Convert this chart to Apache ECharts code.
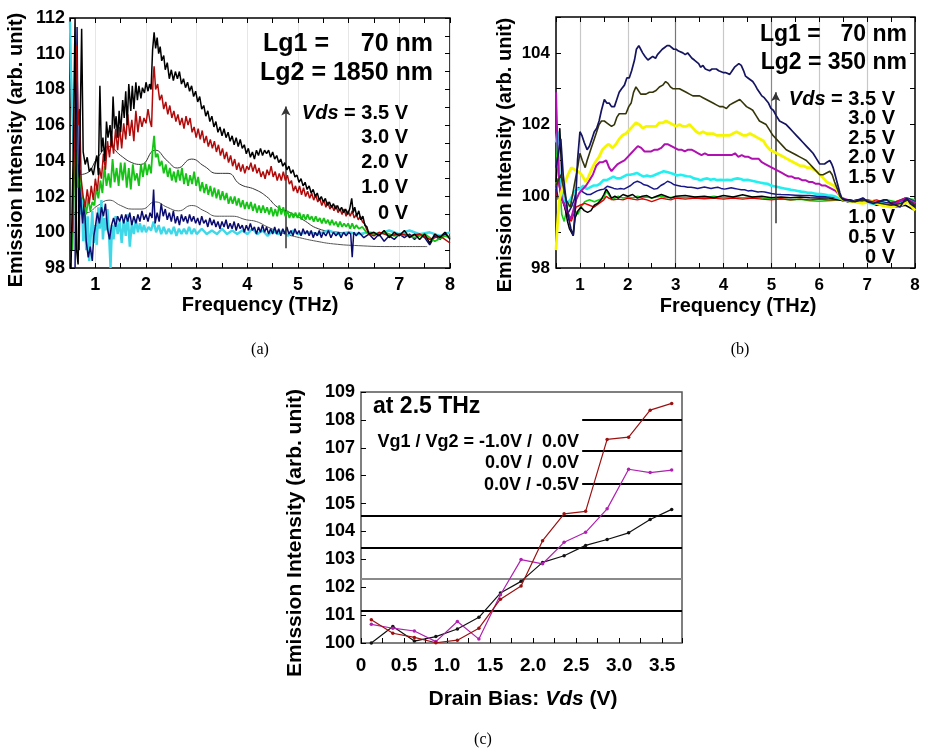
<!DOCTYPE html>
<html><head><meta charset="utf-8">
<script src="https://cdn.jsdelivr.net/npm/echarts/dist/echarts.min.js"></script>
<style>html,body{margin:0;padding:0;background:#fff}#chart{width:926px;height:754px}</style>
</head><body><div id="chart"></div>
<script>
// ---------- Panel (a): Lg1 = 70 nm, Lg2 = 1850 nm ----------
const a_vds35 = [[0.52,98],[0.56,104],[0.6,112],[0.63,99],[0.66,98.2],[0.7,106],[0.73,111.4],[0.76,104.5],[0.8,103.8],[0.84,104.2],[0.88,103.4],[0.92,103.6],[0.96,103.2],[1.0,103.9],[1.03,104.3],[1.06,103.2],[1.09,108.2],[1.12,104.5],[1.15,105.3],[1.19,104],[1.22,106.2],[1.25,105.3],[1.29,106],[1.32,104.8],[1.35,107.6],[1.38,105.8],[1.41,106.5],[1.44,105.3],[1.47,106.8],[1.5,105.6],[1.54,107.4],[1.57,106.4],[1.6,107.9],[1.63,106],[1.66,108.3],[1.7,106.8],[1.73,108.2],[1.76,106.9],[1.8,108.4],[1.83,107.4],[1.86,108.2],[1.9,107.5],[1.93,108.1],[1.97,107.8],[2.0,108.4],[2.04,107.9],[2.07,108.3],[2.1,108],[2.13,110.2],[2.16,111.2],[2.19,110.3],[2.22,110.9],[2.25,110],[2.28,110.4],[2.31,109.6],[2.35,109.9],[2.38,109.1],[2.42,109.5],[2.46,108.6],[2.5,109.1],[2.54,108.5],[2.58,109],[2.62,108.6],[2.66,109],[2.7,108.3],[2.74,108.6],[2.78,108.1],[2.82,108.4],[2.86,107.9],[2.9,108.2],[2.94,107.6],[2.98,107.9],[3.02,107.3],[3.06,107.6],[3.1,106.9],[3.14,107.1],[3.18,106.5],[3.22,106.8],[3.26,106.2],[3.3,106.5],[3.34,105.9],[3.38,106.2],[3.42,105.6],[3.46,105.9],[3.5,105.4],[3.54,105.8],[3.58,105.3],[3.62,105.6],[3.66,105.1],[3.7,105.4],[3.74,104.9],[3.78,105.3],[3.82,104.8],[3.86,105.2],[3.9,104.7],[3.94,104.9],[3.98,104.4],[4.02,104.7],[4.06,104.2],[4.1,104.5],[4.14,104.1],[4.18,104.6],[4.22,104.3],[4.26,104.7],[4.3,104.3],[4.34,104.6],[4.38,104.4],[4.42,104.6],[4.46,104.2],[4.5,104.5],[4.54,104.1],[4.58,104.3],[4.62,103.9],[4.66,104.1],[4.7,103.7],[4.74,103.9],[4.78,103.5],[4.82,103.7],[4.86,103.3],[4.9,103.5],[4.94,103.1],[4.98,103.2],[5.02,102.8],[5.06,103],[5.1,102.6],[5.14,102.8],[5.18,102.4],[5.22,102.6],[5.26,102.2],[5.3,102.4],[5.34,102],[5.38,102.2],[5.42,101.8],[5.46,102],[5.5,101.7],[5.54,101.9],[5.58,101.5],[5.62,101.7],[5.66,101.4],[5.7,101.6],[5.74,101.3],[5.78,101.5],[5.82,101.2],[5.86,101.4],[5.9,101.1],[5.94,101.3],[5.98,101.0],[6.02,101.3],[6.06,101.9],[6.09,101.1],[6.12,101.4],[6.16,100.9],[6.2,101.2],[6.24,100.7],[6.28,100.9],[6.32,100.4],[6.36,100.3],[6.4,99.9],[6.5,100],[6.6,99.8],[6.7,100.1],[6.8,99.7],[6.9,100],[7.0,99.8],[7.1,100.1],[7.2,99.7],[7.3,99.9],[7.4,99.6],[7.5,99.9],[7.6,99.4],[7.7,99.9],[7.8,99.7],[7.9,100],[8.0,99.6]];
const a_vds30 = [[0.55,100],[0.58,104],[0.61,108],[0.63,110.5],[0.66,106],[0.69,106.9],[0.72,103],[0.76,102],[0.8,101.4],[0.84,102.4],[0.88,101.6],[0.92,102.6],[0.96,101.8],[1.0,103],[1.04,102.3],[1.08,103.6],[1.12,103],[1.16,104.4],[1.2,103.5],[1.24,105.1],[1.28,104.2],[1.32,105.4],[1.36,104.4],[1.4,105.8],[1.44,104.6],[1.48,105.9],[1.52,104.7],[1.56,106.1],[1.6,105.2],[1.64,106.6],[1.68,105.4],[1.72,106.3],[1.76,105.1],[1.8,106.8],[1.84,105.6],[1.88,106.5],[1.92,105.9],[1.96,106.4],[2.0,106.1],[2.04,106.9],[2.08,106.2],[2.11,105.9],[2.14,108.6],[2.16,109.3],[2.19,108],[2.23,108.3],[2.27,107.4],[2.31,107.7],[2.35,106.9],[2.39,107.3],[2.43,106.6],[2.47,107.1],[2.51,106.4],[2.55,106.8],[2.59,106.2],[2.63,106.6],[2.67,106],[2.71,106.4],[2.75,105.8],[2.79,106.5],[2.83,106],[2.87,106.4],[2.91,105.6],[2.95,105.9],[2.99,105.3],[3.03,105.8],[3.07,105.2],[3.11,105.7],[3.15,105],[3.19,105.4],[3.23,104.8],[3.27,105.2],[3.31,104.7],[3.35,105.1],[3.39,104.5],[3.43,104.9],[3.47,104.3],[3.51,104.7],[3.55,104.1],[3.59,104.5],[3.63,103.9],[3.67,104.3],[3.71,103.7],[3.75,104.1],[3.79,103.5],[3.83,103.9],[3.87,103.4],[3.91,103.8],[3.95,103.3],[3.99,103.7],[4.03,103.5],[4.07,103.9],[4.11,103.4],[4.15,103.8],[4.19,103.3],[4.23,103.6],[4.27,103.1],[4.31,103.4],[4.35,103.0],[4.39,103.5],[4.43,103.2],[4.47,103.7],[4.51,103.1],[4.55,103.4],[4.59,102.9],[4.63,103.3],[4.67,102.9],[4.71,103.4],[4.75,102.9],[4.79,103.2],[4.83,102.7],[4.87,102.9],[4.91,102.3],[4.95,102.6],[4.99,102.2],[5.03,102.6],[5.07,102.1],[5.11,102.5],[5.15,102],[5.19,102.3],[5.23,101.9],[5.27,102.2],[5.31,101.8],[5.35,102.1],[5.39,101.7],[5.43,101.9],[5.47,101.5],[5.51,101.8],[5.55,101.4],[5.59,101.7],[5.63,101.3],[5.67,101.5],[5.71,101.2],[5.75,101.5],[5.79,101.1],[5.83,101.3],[5.87,101],[5.91,101.3],[5.95,100.9],[5.99,101.2],[6.03,100.9],[6.07,101.2],[6.11,100.8],[6.15,101],[6.19,100.7],[6.23,100.9],[6.27,100.6],[6.31,100.5],[6.35,100.2],[6.4,99.9],[6.5,99.8],[6.6,100],[6.8,99.8],[7.0,99.9],[7.2,99.8],[7.4,99.9],[7.6,99.6],[7.8,99.8],[8.0,99.4]];
const a_vds20 = [[0.55,99],[0.58,103],[0.61,104.5],[0.64,103.5],[0.67,102.5],[0.7,103.2],[0.74,102],[0.78,101.8],[0.82,101],[0.86,101.9],[0.9,101.2],[0.94,101.7],[0.98,101.5],[1.02,102.5],[1.06,101.9],[1.1,102.9],[1.14,102.2],[1.18,103.7],[1.22,102.6],[1.26,103.3],[1.3,102.5],[1.34,104.1],[1.38,102.8],[1.42,103.6],[1.46,102.6],[1.5,103.9],[1.54,102.9],[1.58,103.9],[1.62,102.5],[1.66,103.6],[1.7,102.4],[1.74,103.8],[1.78,102.9],[1.82,103.3],[1.86,102.6],[1.9,103.8],[1.94,103.1],[1.98,103.9],[2.02,103.2],[2.06,103.8],[2.1,103.3],[2.13,104.6],[2.16,105.4],[2.19,104.2],[2.23,104.4],[2.27,103.7],[2.31,104],[2.35,103.3],[2.39,103.8],[2.43,103.1],[2.47,103.6],[2.51,102.9],[2.55,103.4],[2.59,102.8],[2.63,103.5],[2.67,102.9],[2.71,103.6],[2.75,102.7],[2.79,103.3],[2.83,102.6],[2.87,103.2],[2.91,102.7],[2.95,103.4],[2.99,102.6],[3.03,103.1],[3.07,102.3],[3.11,102.8],[3.15,102.2],[3.19,102.7],[3.23,102.1],[3.27,102.6],[3.31,102],[3.35,102.5],[3.39,101.9],[3.43,102.4],[3.47,101.8],[3.51,102.3],[3.55,101.8],[3.59,102.2],[3.63,101.6],[3.67,102],[3.71,101.6],[3.75,102],[3.79,101.5],[3.83,101.9],[3.87,101.4],[3.91,101.8],[3.95,101.3],[3.99,101.7],[4.03,101.3],[4.07,101.7],[4.11,101.2],[4.15,101.6],[4.19,101.1],[4.23,101.5],[4.27,101.1],[4.31,101.5],[4.35,101.1],[4.39,101.4],[4.43,101],[4.47,101.4],[4.51,100.9],[4.55,101.3],[4.59,100.9],[4.63,101.5],[4.67,101],[4.71,101.4],[4.75,100.9],[4.79,101.2],[4.83,100.8],[4.87,101.1],[4.91,100.8],[4.95,101.1],[4.99,100.8],[5.03,101.1],[5.07,100.7],[5.11,101],[5.15,100.7],[5.19,101],[5.23,100.7],[5.27,100.9],[5.31,100.6],[5.35,100.9],[5.39,100.6],[5.43,100.8],[5.47,100.5],[5.51,100.8],[5.55,100.5],[5.59,100.7],[5.63,100.4],[5.67,100.7],[5.71,100.4],[5.75,100.6],[5.79,100.3],[5.83,100.6],[5.87,100.3],[5.91,100.5],[5.95,100.3],[5.99,100.5],[6.03,100.2],[6.07,100.5],[6.11,100.2],[6.15,100.4],[6.2,100.2],[6.27,100.3],[6.35,100],[6.5,99.9],[6.7,100],[6.9,99.8],[7.1,99.9],[7.3,99.7],[7.5,99.9],[7.7,99.5],[7.9,99.8],[8.0,99.7]];
const a_vds10 = [[0.6,98],[0.62,106],[0.64,111.5],[0.66,104],[0.68,99],[0.7,103.5],[0.72,101.5],[0.75,100.5],[0.78,101.8],[0.82,99.5],[0.86,98.6],[0.9,99.2],[0.94,98.4],[0.97,99.8],[1.0,100.3],[1.04,101.1],[1.08,100.5],[1.12,101.4],[1.16,100.9],[1.2,101.6],[1.24,100.2],[1.28,99.6],[1.32,100.4],[1.36,100.8],[1.4,100.3],[1.44,100.9],[1.48,100.6],[1.52,101],[1.56,100.5],[1.6,101],[1.64,100.6],[1.68,101.1],[1.72,100.4],[1.76,100.9],[1.8,100.5],[1.84,101],[1.88,100.6],[1.92,101.2],[1.96,100.7],[2.0,101],[2.04,100.6],[2.08,101.1],[2.12,100.8],[2.15,102.4],[2.18,100.5],[2.22,101.1],[2.26,100.6],[2.3,101.6],[2.34,100.9],[2.38,101.3],[2.42,100.7],[2.46,101.1],[2.5,100.6],[2.54,101.2],[2.58,100.5],[2.62,100.9],[2.66,100.4],[2.7,101],[2.74,100.6],[2.78,100.9],[2.82,100.5],[2.86,101],[2.9,100.6],[2.94,100.9],[2.98,100.5],[3.02,100.8],[3.06,100.4],[3.1,100.9],[3.14,100.5],[3.18,100.7],[3.22,100.3],[3.26,100.8],[3.3,100.4],[3.34,100.7],[3.38,100.3],[3.42,100.6],[3.46,100.2],[3.5,100.6],[3.54,100.3],[3.58,100.7],[3.62,100.2],[3.66,100.5],[3.7,100.2],[3.74,100.6],[3.78,100.1],[3.82,100.5],[3.86,100.2],[3.9,100.4],[3.94,100],[3.98,100.4],[4.02,100.1],[4.06,100.5],[4.1,100.1],[4.14,100.3],[4.18,99.9],[4.22,100.3],[4.26,100],[4.3,100.4],[4.34,100],[4.38,100.3],[4.42,99.9],[4.46,100.2],[4.5,99.9],[4.54,100.3],[4.58,99.9],[4.62,100.2],[4.66,99.8],[4.7,100.2],[4.74,99.9],[4.78,100.3],[4.82,99.9],[4.86,100.1],[4.9,99.8],[4.94,100.2],[4.98,99.9],[5.02,100.1],[5.06,99.8],[5.1,100.2],[5.14,99.9],[5.18,100.1],[5.22,99.8],[5.26,100.1],[5.3,99.7],[5.34,100],[5.38,99.8],[5.42,100.1],[5.46,99.7],[5.5,100],[5.55,99.8],[5.6,100.1],[5.65,99.7],[5.7,100],[5.75,99.8],[5.8,100],[5.85,99.7],[5.9,100],[5.95,99.8],[6.0,100],[6.04,99.9],[6.07,98.6],[6.1,100],[6.15,99.8],[6.2,100],[6.3,99.7],[6.4,99.9],[6.5,99.6],[6.6,99.9],[6.7,99.5],[6.8,99.8],[6.9,99.6],[7.0,99.9],[7.1,99.7],[7.2,99.9],[7.3,99.6],[7.4,99.9],[7.5,99.7],[7.6,99.3],[7.7,99.8],[7.8,99.6],[7.9,99.9],[8.0,99.7]];
const a_vds00 = [[0.5,111.8],[0.52,109],[0.55,106.5],[0.58,104],[0.61,104.6],[0.64,102.5],[0.67,103.8],[0.7,101],[0.73,102.2],[0.76,99.5],[0.79,101.4],[0.82,99],[0.85,100.9],[0.88,98.4],[0.91,99.8],[0.94,101.2],[0.97,99.4],[1.0,100.4],[1.03,99.3],[1.06,101.4],[1.09,100.2],[1.12,101.8],[1.15,99.6],[1.18,100.8],[1.21,100.1],[1.24,101.3],[1.27,99.9],[1.3,98],[1.33,100.4],[1.36,99.6],[1.4,100.9],[1.44,99.9],[1.48,100.6],[1.52,99.4],[1.56,100.7],[1.6,99.8],[1.64,101],[1.68,99.2],[1.72,100.5],[1.76,99.9],[1.8,100.7],[1.84,100],[1.88,100.5],[1.92,100],[1.96,100.4],[2.0,100],[2.05,100.3],[2.1,100.1],[2.15,100.6],[2.2,100],[2.25,100.4],[2.3,99.9],[2.35,100.3],[2.4,99.9],[2.45,100.2],[2.5,99.9],[2.55,100.3],[2.6,99.8],[2.65,100.2],[2.7,99.9],[2.75,100.2],[2.8,99.9],[2.85,100.3],[2.9,99.9],[2.95,100.2],[3.0,99.9],[3.1,100.2],[3.2,99.9],[3.3,100.1],[3.4,99.9],[3.5,100.2],[3.6,99.9],[3.7,100.1],[3.8,99.9],[3.9,100.1],[4.0,99.9],[4.1,100.2],[4.2,99.9],[4.3,100.1],[4.4,99.8],[4.5,100.1],[4.6,99.9],[4.7,100.1],[4.8,99.8],[4.9,100.1],[5.0,99.9],[5.2,100],[5.4,99.9],[5.6,100.1],[5.8,99.9],[6.0,100],[6.2,99.9],[6.4,100],[6.6,99.9],[6.8,100.1],[7.0,99.9],[7.2,100.1],[7.4,99.9],[7.6,100],[7.8,99.8],[8.0,100]];
const a_fitUpper = [[0.58,103.2],[0.82,103.3],[1.05,104.2],[1.27,104.8],[1.5,104.3],[1.72,103.9],[1.9,103.8],[2.18,104.6],[2.42,104.0],[2.62,103.6],[2.9,104.1],[3.15,103.7],[3.4,103.3],[3.62,103.3],[3.85,102.7],[4.15,102.4],[4.38,102.0],[4.6,101.4],[4.85,101.1],[5.1,100.7],[5.4,100.2],[5.8,100.0],[6.3,99.9]];
const a_fitLower = [[0.58,101.1],[0.82,101.1],[1.05,101.5],[1.27,101.8],[1.5,101.5],[1.72,101.3],[1.92,101.3],[2.18,101.7],[2.42,101.4],[2.64,101.2],[2.9,101.5],[3.15,101.2],[3.4,100.9],[3.7,100.9],[3.98,100.7],[4.18,100.6],[4.4,100.3],[4.7,99.95],[5.03,99.7],[5.36,99.5],[5.7,99.35],[6.2,99.25],[6.8,99.2],[7.55,99.2]];
const a_arrow = [4.76, 99.1, 107.05];

// ---------- Panel (b): Lg1 = 70 nm, Lg2 = 350 nm ----------
const b_vds35 = [[0.5,100.8],[0.55,101.2],[0.6,101.6],[0.65,100.6],[0.71,99.9],[0.76,99.4],[0.81,99.1],[0.86,98.9],[0.9,99.6],[0.95,101],[1.0,101.8],[1.04,101.7],[1.09,101.5],[1.15,101.3],[1.2,101.4],[1.25,101.6],[1.3,101.8],[1.35,101.9],[1.4,102.1],[1.45,102.4],[1.51,102.7],[1.56,102.6],[1.61,102.6],[1.66,102.5],[1.72,102.5],[1.77,102.7],[1.82,102.9],[1.87,103],[1.93,103.1],[1.98,103.3],[2.03,103.3],[2.08,103.5],[2.14,103.8],[2.18,104.1],[2.23,104.2],[2.27,104.1],[2.31,104.0],[2.36,103.9],[2.42,103.8],[2.47,103.85],[2.52,103.9],[2.58,103.85],[2.62,103.95],[2.66,104.0],[2.72,104.1],[2.77,104.15],[2.82,104.2],[2.87,104.2],[2.91,104.15],[2.96,104.1],[3.01,104.1],[3.06,104.05],[3.1,104.0],[3.15,104.0],[3.2,103.95],[3.25,104.0],[3.29,103.95],[3.34,103.85],[3.39,103.8],[3.43,103.75],[3.48,103.7],[3.52,103.6],[3.57,103.65],[3.62,103.55],[3.66,103.6],[3.71,103.5],[3.76,103.55],[3.8,103.6],[3.85,103.55],[3.9,103.5],[3.94,103.5],[3.99,103.45],[4.04,103.45],[4.08,103.4],[4.13,103.4],[4.18,103.5],[4.23,103.6],[4.27,103.6],[4.32,103.7],[4.37,103.65],[4.42,103.5],[4.46,103.35],[4.51,103.3],[4.56,103.25],[4.61,103.2],[4.66,103.1],[4.7,103.0],[4.75,102.9],[4.8,102.8],[4.85,102.75],[4.89,102.7],[4.94,102.6],[4.99,102.45],[5.04,102.4],[5.1,102.25],[5.17,102.1],[5.24,102.05],[5.31,102.0],[5.38,101.9],[5.45,101.8],[5.52,101.7],[5.59,101.6],[5.66,101.5],[5.73,101.4],[5.8,101.3],[5.87,101.2],[5.94,101.05],[6.01,100.9],[6.06,100.9],[6.11,100.9],[6.16,100.95],[6.22,101.0],[6.26,100.9],[6.29,100.8],[6.34,100.55],[6.39,100.3],[6.43,100.1],[6.47,99.95],[6.55,99.9],[6.64,99.9],[6.75,99.85],[6.85,99.9],[6.92,99.95],[7.0,99.85],[7.13,99.8],[7.25,99.85],[7.35,99.9],[7.41,99.9],[7.5,99.8],[7.6,99.75],[7.69,99.7],[7.76,99.85],[7.83,99.95],[7.9,99.8],[8.0,99.7]];
const b_vds30 = [[0.5,100.3],[0.6,100.6],[0.71,99.9],[0.8,99.7],[0.88,100.3],[0.95,100.8],[1.0,101.2],[1.05,101.0],[1.11,100.8],[1.15,101.0],[1.2,101.2],[1.25,101.4],[1.3,101.6],[1.35,101.8],[1.4,102.0],[1.45,102.1],[1.51,102.1],[1.56,102.05],[1.61,102.0],[1.66,101.95],[1.72,102.0],[1.77,102.2],[1.82,102.3],[1.88,102.3],[1.96,102.3],[2.02,102.5],[2.07,102.6],[2.12,102.9],[2.17,103.05],[2.22,102.95],[2.27,102.85],[2.31,102.8],[2.38,102.85],[2.45,102.9],[2.52,102.9],[2.59,102.95],[2.66,103.05],[2.73,103.1],[2.79,103.2],[2.84,103.15],[2.89,103.05],[2.94,103.0],[3.01,103.0],[3.08,103.0],[3.15,102.95],[3.22,102.9],[3.29,102.85],[3.36,102.8],[3.43,102.8],[3.5,102.8],[3.57,102.75],[3.64,102.7],[3.71,102.65],[3.78,102.6],[3.85,102.55],[3.92,102.5],[3.99,102.5],[4.06,102.45],[4.13,102.55],[4.2,102.6],[4.27,102.65],[4.34,102.7],[4.41,102.6],[4.48,102.5],[4.55,102.45],[4.61,102.4],[4.68,102.25],[4.75,102.1],[4.82,102.05],[4.89,102.0],[4.96,101.85],[5.03,101.7],[5.1,101.6],[5.17,101.5],[5.24,101.4],[5.31,101.3],[5.38,101.25],[5.45,101.2],[5.52,101.15],[5.59,101.1],[5.66,101.05],[5.73,101.0],[5.8,100.9],[5.87,100.8],[5.94,100.7],[6.01,100.6],[6.08,100.6],[6.15,100.65],[6.22,100.7],[6.27,100.6],[6.32,100.4],[6.38,100.2],[6.43,100.0],[6.5,99.9],[6.7,99.85],[6.9,99.9],[7.1,99.85],[7.3,99.8],[7.5,99.75],[7.7,99.8],[7.85,99.9],[8.0,99.75]];
const b_vds25 = [[0.5,98.5],[0.53,99.2],[0.57,99.9],[0.63,100.2],[0.68,100.35],[0.75,100.6],[0.82,100.8],[0.88,100.75],[0.95,100.7],[1.0,100.65],[1.06,100.55],[1.12,100.4],[1.18,100.55],[1.26,100.8],[1.32,100.95],[1.4,101.1],[1.47,101.3],[1.54,101.4],[1.6,101.45],[1.68,101.35],[1.75,101.45],[1.82,101.6],[1.89,101.7],[1.96,101.75],[2.03,101.85],[2.1,101.95],[2.17,102.05],[2.24,102.0],[2.31,101.9],[2.38,101.95],[2.45,101.95],[2.52,101.95],[2.59,101.95],[2.66,102.05],[2.73,102.05],[2.8,102.1],[2.87,102.05],[2.94,102.0],[3.01,101.95],[3.08,102.0],[3.15,101.95],[3.22,101.95],[3.29,102.0],[3.36,101.9],[3.43,101.8],[3.5,101.75],[3.57,101.8],[3.64,101.75],[3.71,101.75],[3.78,101.75],[3.85,101.7],[3.92,101.7],[3.99,101.7],[4.06,101.7],[4.13,101.7],[4.2,101.75],[4.27,101.8],[4.34,101.75],[4.41,101.7],[4.48,101.7],[4.55,101.75],[4.62,101.7],[4.69,101.65],[4.76,101.6],[4.83,101.55],[4.9,101.4],[4.97,101.3],[5.04,101.25],[5.11,101.2],[5.18,101.15],[5.25,101.1],[5.32,101.05],[5.39,101.0],[5.46,100.95],[5.53,100.9],[5.6,100.85],[5.67,100.85],[5.74,100.8],[5.81,100.8],[5.88,100.75],[5.95,100.7],[6.02,100.6],[6.09,100.5],[6.16,100.4],[6.23,100.35],[6.3,100.3],[6.37,100.2],[6.43,100.0],[6.5,99.9],[6.7,99.85],[6.9,99.8],[7.1,99.85],[7.3,99.75],[7.5,99.7],[7.7,99.75],[7.85,99.85],[8.0,99.6]];
const b_vds20 = [[0.5,102.9],[0.53,101.5],[0.57,100.3],[0.63,99.9],[0.7,99.7],[0.76,99.5],[0.81,99.35],[0.86,99.6],[0.92,99.9],[0.99,100.1],[1.06,100.2],[1.13,100.3],[1.2,100.45],[1.27,100.6],[1.34,100.85],[1.41,100.95],[1.48,100.95],[1.55,101.0],[1.61,100.8],[1.66,100.7],[1.72,100.8],[1.79,100.9],[1.86,100.95],[1.93,101.0],[2.0,101.1],[2.07,101.2],[2.14,101.3],[2.21,101.4],[2.28,101.35],[2.35,101.25],[2.42,101.25],[2.49,101.25],[2.56,101.3],[2.63,101.3],[2.7,101.35],[2.77,101.45],[2.84,101.45],[2.91,101.4],[2.98,101.35],[3.05,101.3],[3.12,101.3],[3.19,101.25],[3.26,101.3],[3.33,101.3],[3.4,101.25],[3.47,101.2],[3.54,101.15],[3.61,101.2],[3.68,101.15],[3.75,101.15],[3.82,101.15],[3.89,101.15],[3.96,101.15],[4.03,101.15],[4.1,101.15],[4.17,101.15],[4.24,101.2],[4.31,101.1],[4.38,101.15],[4.45,101.1],[4.52,101.1],[4.59,101.05],[4.66,101.05],[4.73,101.05],[4.8,100.95],[4.87,100.9],[4.94,100.85],[5.01,100.8],[5.08,100.75],[5.15,100.7],[5.22,100.65],[5.29,100.6],[5.36,100.55],[5.43,100.55],[5.5,100.5],[5.57,100.5],[5.64,100.45],[5.71,100.45],[5.78,100.4],[5.85,100.4],[5.92,100.35],[5.99,100.35],[6.06,100.3],[6.13,100.3],[6.2,100.25],[6.27,100.2],[6.34,100.15],[6.41,100.05],[6.47,99.95],[6.6,99.9],[6.8,99.85],[7.0,99.9],[7.2,99.8],[7.4,99.75],[7.6,99.8],[7.8,99.95],[8.0,99.8]];
const b_vds15 = [[0.5,101.5],[0.53,101.8],[0.56,100.8],[0.6,100.3],[0.66,99.9],[0.73,99.8],[0.8,99.9],[0.87,100.1],[0.94,100.2],[1.0,100.2],[1.07,100.3],[1.14,100.2],[1.21,100.25],[1.28,100.3],[1.35,100.3],[1.42,100.35],[1.49,100.45],[1.56,100.45],[1.63,100.5],[1.7,100.55],[1.77,100.5],[1.84,100.5],[1.91,100.55],[1.98,100.6],[2.05,100.6],[2.12,100.62],[2.19,100.65],[2.26,100.6],[2.33,100.55],[2.4,100.58],[2.47,100.55],[2.54,100.58],[2.61,100.62],[2.68,100.66],[2.75,100.7],[2.82,100.68],[2.89,100.65],[2.96,100.62],[3.03,100.58],[3.1,100.6],[3.17,100.58],[3.24,100.56],[3.31,100.55],[3.38,100.5],[3.45,100.48],[3.52,100.45],[3.59,100.48],[3.66,100.5],[3.73,100.46],[3.8,100.48],[3.87,100.45],[3.94,100.46],[4.01,100.45],[4.08,100.46],[4.15,100.45],[4.22,100.48],[4.29,100.5],[4.36,100.48],[4.43,100.45],[4.5,100.46],[4.57,100.44],[4.64,100.42],[4.71,100.4],[4.78,100.38],[4.85,100.36],[4.92,100.35],[4.99,100.3],[5.06,100.28],[5.13,100.26],[5.2,100.24],[5.27,100.22],[5.34,100.2],[5.41,100.18],[5.48,100.17],[5.55,100.15],[5.62,100.13],[5.69,100.12],[5.76,100.1],[5.83,100.1],[5.9,100.08],[5.97,100.06],[6.04,100.06],[6.11,100.05],[6.18,100.03],[6.25,100.02],[6.32,100.0],[6.4,99.95],[6.5,99.9],[6.7,99.85],[6.9,99.85],[7.1,99.8],[7.3,99.8],[7.5,99.75],[7.7,99.8],[7.85,99.9],[8.0,99.8]];
const b_vds10 = [[0.5,100.3],[0.55,99.9],[0.6,100.0],[0.66,99.8],[0.71,99.6],[0.76,99.55],[0.82,99.7],[0.88,99.9],[0.92,100.15],[0.97,100.25],[1.03,100.15],[1.08,100.1],[1.15,100.05],[1.22,100.05],[1.29,100.1],[1.36,100.15],[1.43,100.18],[1.5,100.2],[1.57,100.28],[1.64,100.25],[1.71,100.22],[1.78,100.2],[1.85,100.22],[1.92,100.2],[1.99,100.25],[2.06,100.3],[2.13,100.38],[2.2,100.42],[2.27,100.38],[2.34,100.32],[2.41,100.3],[2.48,100.25],[2.55,100.2],[2.62,100.22],[2.69,100.3],[2.76,100.35],[2.83,100.42],[2.9,100.38],[2.97,100.32],[3.04,100.3],[3.11,100.28],[3.18,100.27],[3.25,100.25],[3.32,100.25],[3.39,100.24],[3.46,100.22],[3.53,100.24],[3.6,100.26],[3.67,100.24],[3.74,100.22],[3.81,100.24],[3.88,100.25],[3.95,100.22],[4.02,100.2],[4.09,100.22],[4.16,100.24],[4.23,100.22],[4.3,100.2],[4.37,100.18],[4.44,100.18],[4.51,100.15],[4.58,100.16],[4.65,100.14],[4.72,100.12],[4.79,100.13],[4.86,100.12],[4.93,100.1],[5.0,100.08],[5.1,100.06],[5.2,100.05],[5.35,100.04],[5.5,100.03],[5.65,100.02],[5.8,100.02],[5.95,100.0],[6.1,100.0],[6.25,99.98],[6.4,99.95],[6.5,99.9],[6.7,99.85],[6.9,99.95],[7.1,99.8],[7.3,99.85],[7.5,99.8],[7.7,99.85],[7.85,99.95],[8.0,99.85]];
const b_flatBlack = [[0.5,100.4],[0.55,101.4],[0.58,101.9],[0.62,100.6],[0.66,99.9],[0.7,99.6],[0.74,99.3],[0.78,99.1],[0.82,99.0],[0.86,98.9],[0.9,99.4],[0.96,99.6],[1.02,99.7],[1.09,99.6],[1.16,99.55],[1.23,99.6],[1.3,99.75],[1.37,99.8],[1.44,99.9],[1.5,100.05],[1.55,100.2],[1.6,100.1],[1.66,99.95],[1.73,100.0],[1.8,99.95],[1.9,100.05],[2.0,100.0],[2.1,100.05],[2.2,99.95],[2.3,100.0],[2.4,100.02],[2.5,99.95],[2.6,100.0],[2.7,100.05],[2.8,100.0],[2.9,99.95],[3.0,100.0],[3.2,100.02],[3.4,99.98],[3.6,100.0],[3.8,99.96],[4.0,100.02],[4.2,99.98],[4.4,100.04],[4.6,99.98],[4.8,100.0],[5.0,99.96],[5.2,99.98],[5.4,99.96],[5.6,99.98],[5.8,99.96],[6.0,99.95],[6.2,99.95],[6.4,99.9],[6.6,99.85],[6.8,99.9],[7.0,99.85],[7.2,99.75],[7.4,99.8],[7.6,99.7],[7.8,99.75],[8.0,99.6]];
const b_flatRed = [[0.5,100.0],[0.54,100.5],[0.58,100.2],[0.63,99.9],[0.7,99.6],[0.76,99.4],[0.82,99.3],[0.86,99.35],[0.92,99.7],[1.0,99.75],[1.1,99.8],[1.2,99.75],[1.3,99.7],[1.4,99.8],[1.5,99.9],[1.55,100.0],[1.6,99.95],[1.7,99.9],[1.8,99.92],[1.9,99.9],[2.0,99.95],[2.1,99.92],[2.2,99.9],[2.3,99.93],[2.4,99.9],[2.5,99.85],[2.6,99.9],[2.7,99.95],[2.8,99.92],[2.9,99.9],[3.0,99.95],[3.2,99.92],[3.4,99.95],[3.6,99.93],[3.8,99.95],[4.0,99.92],[4.2,99.95],[4.4,99.92],[4.6,99.95],[4.8,99.92],[5.0,99.9],[5.2,99.93],[5.4,99.9],[5.6,99.92],[5.8,99.9],[6.0,99.92],[6.2,99.9],[6.4,99.9],[6.6,99.85],[6.8,99.9],[7.0,99.85],[7.2,99.9],[7.4,99.8],[7.6,99.85],[7.8,99.95],[8.0,99.8]];
const b_flatGreen = [[0.5,100.2],[0.53,101.8],[0.57,100.5],[0.62,99.5],[0.67,99.3],[0.72,99.6],[0.78,99.9],[0.84,99.8],[0.9,99.6],[0.96,99.5],[1.02,99.7],[1.1,99.85],[1.2,99.9],[1.3,99.85],[1.4,99.9],[1.5,99.95],[1.55,100.15],[1.6,100.05],[1.66,99.9],[1.73,99.95],[1.8,100.0],[1.9,99.95],[2.0,99.98],[2.1,99.95],[2.2,100.0],[2.3,99.97],[2.4,99.98],[2.5,99.95],[2.6,99.98],[2.7,100.0],[2.8,99.96],[3.0,99.98],[3.2,99.96],[3.4,99.98],[3.6,99.96],[3.8,100.0],[4.0,99.96],[4.2,99.98],[4.4,99.96],[4.6,99.98],[4.8,99.95],[5.0,99.92],[5.2,99.93],[5.4,99.9],[5.6,99.92],[5.8,99.88],[6.0,99.86],[6.2,99.88],[6.4,99.9],[6.6,99.9],[6.8,99.85],[7.0,99.9],[7.2,99.85],[7.4,99.9],[7.6,99.85],[7.8,99.95],[8.0,99.9]];
const b_arrow = [5.09, 99.25, 102.9];

// ---------- Panel (c): at 2.5 THz vs drain bias ----------
const c_vds = [0.12,0.37,0.62,0.87,1.12,1.37,1.62,1.86,2.11,2.36,2.61,2.86,3.11,3.36,3.61];
const c_vg_m10_00 = [100.83,100.35,100.2,100.01,100.1,100.53,101.57,102.04,103.67,104.63,104.72,107.3,107.38,108.35,108.59];
const c_vg_00_00 = [100.67,100.53,100.43,100.05,100.77,100.14,101.73,102.99,102.84,103.61,103.97,104.81,106.23,106.11,106.2];
const c_vg_00_m05 = [100.0,100.59,100.07,100.23,100.5,100.92,101.79,102.21,102.89,103.13,103.5,103.71,103.95,104.43,104.79];
const c_refLevels = [101.16,102.29,103.43,104.58,105.72,106.88,108.0];
const c_refStart = [0,0,0,0,2.57,2.57,2.57];
const c_refGray = [false,true,false,false,false,false,false];

// ---------- chart ----------
const FONT = '"Liberation Sans", Arial, sans-serif';
const chart = echarts.init(document.getElementById('chart'));

const tick = {inside:true, length:5, lineStyle:{color:'#000', width:1}};
const lbl = (size, margin, fmt) => ({fontSize:size, fontWeight:'bold', color:'#000', fontFamily:FONT, margin, formatter:fmt});
const isInt = v => Math.abs(v - Math.round(v)) < 1e-6;
const isHalf = v => Math.abs(v*2 - Math.round(v*2)) < 1e-6;

const bGridColors = ['rgba(0,0,0,0)','#c8c8c8','rgba(0,0,0,0)','#c8c8c8','rgba(0,0,0,0)','#777','rgba(0,0,0,0)','#c8c8c8','rgba(0,0,0,0)','#888','rgba(0,0,0,0)','#c8c8c8','rgba(0,0,0,0)','#c8c8c8','rgba(0,0,0,0)','rgba(0,0,0,0)'];
const aGridColors = ['rgba(0,0,0,0)','#e6e6e6'];

const xAxes = [
  {type:'value', gridIndex:0, min:0.5, max:8, interval:0.5, axisLine:{show:false}, axisTick:tick,
   axisLabel:lbl(18, 8, v => isInt(v) ? String(Math.round(v)) : ''), splitLine:{show:true, lineStyle:{color:aGridColors, width:1}}},
  {type:'value', gridIndex:0, position:'top', min:0.5, max:8, interval:0.5, axisLine:{show:false}, axisTick:tick, axisLabel:{show:false}, splitLine:{show:false}},
  {type:'value', gridIndex:1, min:0.5, max:8, interval:0.5, axisLine:{show:false}, axisTick:tick,
   axisLabel:lbl(17, 9, v => isInt(v) ? String(Math.round(v)) : ''), splitLine:{show:true, lineStyle:{color:bGridColors, width:1.2}}},
  {type:'value', gridIndex:1, position:'top', min:0.5, max:8, interval:0.5, axisLine:{show:false}, axisTick:tick, axisLabel:{show:false}, splitLine:{show:false}},
  {type:'value', gridIndex:2, min:0, max:3.73, interval:0.25, axisLine:{show:false}, axisTick:tick,
   axisLabel:lbl(19, 13, v => isHalf(v) ? (v === 0 ? '0' : v.toFixed(1)) : ''), splitLine:{show:false}}
];
const yAxes = [
  {type:'value', gridIndex:0, min:98, max:112, interval:1, axisLine:{show:false}, axisTick:tick,
   axisLabel:lbl(18, 5, v => (Math.round(v) % 2 === 0) ? String(v) : ''), splitLine:{show:false}},
  {type:'value', gridIndex:0, position:'right', min:98, max:112, interval:1, axisLine:{show:false}, axisTick:tick, axisLabel:{show:false}, splitLine:{show:false}},
  {type:'value', gridIndex:1, min:98, max:105, interval:1, axisLine:{show:false}, axisTick:tick,
   axisLabel:lbl(17, 6, v => (Math.round(v) % 2 === 0) ? String(v) : ''), splitLine:{show:false}},
  {type:'value', gridIndex:1, position:'right', min:98, max:105, interval:1, axisLine:{show:false}, axisTick:tick, axisLabel:{show:false}, splitLine:{show:false}},
  {type:'value', gridIndex:2, min:100, max:109, interval:1, axisLine:{show:false}, axisTick:tick,
   axisLabel:lbl(18, 6), splitLine:{show:false}}
];

function line(data, color, width, xi, yi, z, extra) {
  return Object.assign({type:'line', data, xAxisIndex:xi, yAxisIndex:yi, showSymbol:false, symbol:'none',
    lineStyle:{color, width}, itemStyle:{color}, z, silent:true, animation:false}, extra || {});
}
function arrowLine(arr) {
  return {silent:true, animation:false, symbol:['none','arrow'], symbolSize:[7,9], label:{show:false},
    lineStyle:{type:'solid', color:'#333', width:1.5},
    data:[[{coord:[arr[0], arr[1]]}, {coord:[arr[0], arr[2]]}]]};
}
const zip = (xs, ys) => xs.map((x, i) => [x, ys[i]]);

const refLineData = c_refLevels.map((y, i) => [
  {coord:[c_refStart[i], y], lineStyle:{color: c_refGray[i] ? '#8a8a8a' : '#000', width:2, type:'solid'}},
  {coord:[3.73, y]}
]);

const series = [
  // panel a
  line(a_fitLower, '#555', 1, 0, 0, 2, {smooth:true}),
  line(a_fitUpper, '#333', 1, 0, 0, 2, {smooth:true, markLine:arrowLine(a_arrow)}),
  line(a_vds00, '#3fd8e8', 2.4, 0, 0, 3),
  line(a_vds10, '#0c0c70', 1.5, 0, 0, 4),
  line(a_vds20, '#16c416', 1.8, 0, 0, 5),
  line(a_vds30, '#b00a0a', 1.5, 0, 0, 6),
  line(a_vds35, '#000', 1.5, 0, 0, 7),
  // panel b
  line(b_flatGreen, '#10d010', 1.6, 2, 2, 3),
  line(b_flatRed, '#e00000', 1.4, 2, 2, 3),
  line(b_flatBlack, '#000', 1.5, 2, 2, 3, {markLine:arrowLine(b_arrow)}),
  line(b_vds10, '#18188c', 1.5, 2, 2, 4),
  line(b_vds15, '#22f0f0', 2.6, 2, 2, 4),
  line(b_vds20, '#b010b0', 2, 2, 2, 5),
  line(b_vds25, '#f6f600', 2.8, 2, 2, 5),
  line(b_vds30, '#35350a', 1.6, 2, 2, 6),
  line(b_vds35, '#141460', 1.7, 2, 2, 7),
  // panel c
  line(zip(c_vds, c_vg_00_m05), '#111', 1.2, 4, 4, 5, {showSymbol:true, symbol:'circle', symbolSize:3.5,
    markLine:{silent:true, animation:false, symbol:['none','none'], label:{show:false}, data:refLineData}}),
  line(zip(c_vds, c_vg_00_00), '#b020b0', 1.2, 4, 4, 6, {showSymbol:true, symbol:'circle', symbolSize:3.5}),
  line(zip(c_vds, c_vg_m10_00), '#9c1010', 1.2, 4, 4, 7, {showSymbol:true, symbol:'circle', symbolSize:3.5})
];

function T(x, y, text, size, align, opt) {
  opt = opt || {};
  const style = {text, fill:'#000', fontSize:size, fontWeight:opt.weight || 'bold', fontFamily:opt.family || FONT,
    textAlign:align || 'left', textVerticalAlign:'middle'};
  if (opt.italic) style.rich = {i:{fontStyle:'italic', fontWeight:'bold', fontSize:size, fontFamily:FONT, fill:'#000'}};
  return {type:'text', x, y, rotation:opt.rot || 0, silent:true, z:100, style};
}
const SERIF = '"Liberation Serif", "Times New Roman", serif';
const graphic = [
  // axis titles
  T(16, 150, 'Emission Intensity (arb. unit)', 20, 'center', {rot:Math.PI/2}),
  T(260, 305, 'Frequency (THz)', 20, 'center'),
  T(505, 155, 'Emission Intensity (arb. unit)', 20, 'center', {rot:Math.PI/2}),
  T(738, 306, 'Frequency (THz)', 20, 'center'),
  T(295, 533, 'Emission Intensity (arb. unit)', 21, 'center', {rot:Math.PI/2}),
  T(523, 699, 'Drain Bias: {i|Vds} (V)', 21, 'center', {italic:true}),
  // panel a annotations
  T(263, 44, 'Lg1 =', 25, 'left'),
  T(433, 44, '70 nm', 25, 'right'),
  T(433, 73, 'Lg2 = 1850 nm', 25, 'right'),
  T(408, 113, '{i|Vds} = 3.5 V', 20, 'right', {italic:true}),
  T(408, 137, '3.0 V', 20, 'right'),
  T(408, 162, '2.0 V', 20, 'right'),
  T(408, 187, '1.0 V', 20, 'right'),
  T(408, 213, '0 V', 20, 'right'),
  // panel b annotations
  T(760, 35, 'Lg1 =', 23, 'left'),
  T(907, 35, '70 nm', 23, 'right'),
  T(907, 63, 'Lg2 = 350 nm', 23, 'right'),
  T(895, 99, '{i|Vds} = 3.5 V', 20, 'right', {italic:true}),
  T(895, 118, '3.0 V', 20, 'right'),
  T(895, 138, '2.5 V', 20, 'right'),
  T(895, 157, '2.0 V', 20, 'right'),
  T(895, 177, '1.5 V', 20, 'right'),
  T(895, 217, '1.0 V', 20, 'right'),
  T(895, 237, '0.5 V', 20, 'right'),
  T(895, 257, '0 V', 20, 'right'),
  // panel c annotations
  T(373, 407, 'at 2.5 THz', 23, 'left'),
  T(579, 442, 'Vg1 / Vg2 = -1.0V /  0.0V', 18, 'right'),
  T(579, 463, '0.0V /  0.0V', 18, 'right'),
  T(579, 485, '0.0V / -0.5V', 18, 'right'),
  // captions
  T(260, 350, '(a)', 16, 'center', {weight:'normal', family:SERIF}),
  T(740, 350, '(b)', 16, 'center', {weight:'normal', family:SERIF}),
  T(483, 740, '(c)', 16, 'center', {weight:'normal', family:SERIF})
];

chart.setOption({
  animation:false,
  backgroundColor:'#fff',
  textStyle:{fontFamily:FONT},
  grid:[
    {left:70, top:18, width:380, height:250, show:true, borderColor:'#000', borderWidth:1.5, backgroundColor:'rgba(0,0,0,0)'},
    {left:556, top:17, width:359, height:251, show:true, borderColor:'#000', borderWidth:1.5, backgroundColor:'rgba(0,0,0,0)'},
    {left:361, top:392, width:321, height:251, show:true, borderColor:'#555', borderWidth:1.5, backgroundColor:'rgba(0,0,0,0)'}
  ],
  xAxis:xAxes,
  yAxis:yAxes,
  series,
  graphic
});
</script></body></html>
